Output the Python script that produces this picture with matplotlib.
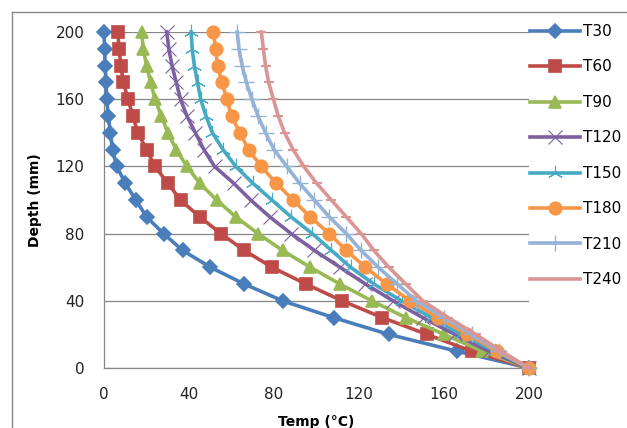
import matplotlib
matplotlib.use("Agg")
import matplotlib.pyplot as plt
from matplotlib.lines import Line2D

plt.rcParams['font.family'] = ['DejaVu Sans']

depth = [0, 10, 20, 30, 40, 50, 60, 70, 80, 90, 100,
         110, 120, 130, 140, 150, 160, 170, 180, 190, 200]

t30 = [200, 166, 134, 108, 84, 66, 50, 37, 28, 20, 15,
       10, 6, 4, 3, 2, 1.3, 1, 0.5, 0.3, 0]
t60 = [200, 173, 152, 131, 112, 95, 79, 66, 55, 45, 36,
       30, 24, 20, 16, 13.5, 11.4, 9, 8, 7, 6.6]
t90 = [200, 178, 160, 142, 126, 111, 97, 84, 72.5, 62, 53,
       45, 39, 34, 30, 27, 24, 22, 20, 18.5, 17.7]
t120 = [200, 181, 165, 150, 136, 123, 111, 99, 88, 78, 69,
        61, 52, 47, 43, 39, 36, 34, 32, 30.5, 29.5]
t150 = [200, 184, 168, 154, 140, 127, 116, 107, 98, 88, 79,
        70, 62, 56, 51, 48, 45.5, 44, 42.5, 41.5, 41]
t180 = [200, 185, 171, 157, 144, 133, 123, 114, 106, 97, 89,
        81, 74, 68, 64, 60, 57.8, 55.5, 53.5, 52.5, 51.5]
t210 = [200, 186, 173, 160, 147, 138, 129, 121, 114, 106, 99,
        92, 86, 80, 76, 72.5, 69.6, 67, 65, 63.5, 62.7]
t240 = [200, 187, 175, 162, 150, 142, 134, 127, 121, 114, 107,
        100, 94, 89, 85, 82, 79.7, 77.5, 76, 75, 74]

series = [t30, t60, t90, t120, t150, t180, t210, t240]
labels = ['T30', 'T60', 'T90', 'T120', 'T150', 'T180', 'T210', 'T240']
colors = ['#4A7EBB', '#BE4B48', '#98B954', '#7D60A0',
          '#46AAC5', '#F79646', '#95B3D7', '#D99694']
markers = ['D', 's', '^', 'x', (3, 2, 0), 'o', '+', '_']
msizes = [7, 8.5, 8.5, 10, 11, 9, 11, 7]
mews = [1.2, 1.2, 1.2, 0.8, 0.8, 1.2, 1.0, 1.5]

fig = plt.figure(figsize=(6.27, 4.28), dpi=100)
ax = fig.add_axes([104 / 627, 1 - 368 / 428, 425 / 627, 336 / 428])

for vals, lab, c, m, ms, mw in zip(series, labels, colors, markers, msizes, mews):
    ax.plot(vals, depth, color=c, lw=2.6, marker=m, markersize=ms,
            markerfacecolor=c, markeredgecolor=c, markeredgewidth=mw,
            label=lab, clip_on=False, zorder=3)

ax.set_xlim(0, 200)
ax.set_ylim(0, 200)
ax.set_xticks([0, 40, 80, 120, 160, 200])
ax.set_yticks([0, 40, 80, 120, 160, 200])
ax.grid(axis='y', color='#868686', lw=0.9)
ax.set_axisbelow(True)
for s in ['top', 'right']:
    ax.spines[s].set_visible(False)
for s in ['left', 'bottom']:
    ax.spines[s].set_color('#868686')
    ax.spines[s].set_linewidth(0.9)
ax.tick_params(length=0, labelsize=11, colors='#222222', pad=14)

ax.set_xlabel('Temp (°C)', fontsize=10, fontweight='bold', labelpad=9)
ax.set_ylabel('Depth (mm)', fontsize=10, fontweight='bold', labelpad=10)

leg = ax.legend(loc='upper left', bbox_to_anchor=(530 / 627, 1 - 24 / 428),
                bbox_transform=fig.transFigure, frameon=False, fontsize=11,
                handlelength=3.3, handletextpad=0.15, labelspacing=1.34,
                numpoints=1, borderpad=0, borderaxespad=0)

# outer chart border
fig.add_artist(Line2D([12 / 627, 1], [1 - 12 / 428, 1 - 12 / 428],
                      color='#868686', lw=1, transform=fig.transFigure))
fig.add_artist(Line2D([12 / 627, 12 / 627], [0, 1 - 12 / 428],
                      color='#868686', lw=1, transform=fig.transFigure))

fig.savefig('out.png', dpi=100)
